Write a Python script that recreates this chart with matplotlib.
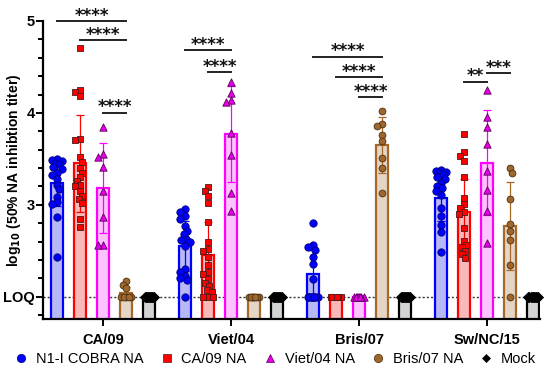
import numpy as np
import matplotlib
matplotlib.use('Agg')
import matplotlib.pyplot as plt
from matplotlib.lines import Line2D

plt.rcParams['font.family'] = ['Liberation Sans', 'DejaVu Sans']

# Dados (log10 dos títulos)
grupos = ['CA/09', 'Viet/04', 'Bris/07', 'Sw/NC/15']
series = ['N1-I COBRA NA', 'CA/09 NA', 'Viet/04 NA', 'Bris/07 NA', 'Mock']

cobra_pts = [
    [3.50, 3.49, 3.48, 3.46, 3.44, 3.41, 3.39, 3.35, 3.32, 3.28, 3.22, 3.17, 3.09, 3.03, 3.01, 2.87, 2.43],
    [2.95, 2.92, 2.88, 2.85, 2.77, 2.72, 2.68, 2.63, 2.62, 2.59, 2.55, 2.30, 2.27, 2.23, 2.20, 2.18, 2.00],
    [2.80, 2.56, 2.54, 2.51, 2.43, 2.36, 2.19, 2.00, 2.00, 2.00, 2.00, 2.00, 2.00, 2.00, 2.00],
    [3.38, 3.37, 3.36, 3.35, 3.33, 3.30, 3.28, 3.24, 3.20, 3.18, 3.15, 3.11, 2.97, 2.88, 2.78, 2.70, 2.49],
]
ca09_pts = [
    [4.71, 4.25, 4.23, 4.18, 3.72, 3.71, 3.52, 3.47, 3.40, 3.35, 3.30, 3.26, 3.22, 3.20, 3.15, 3.10, 3.06, 3.02, 2.85, 2.76],
    [3.19, 3.15, 3.10, 3.02, 2.81, 2.59, 2.52, 2.50, 2.43, 2.34, 2.27, 2.25, 2.19, 2.15, 2.12, 2.07, 2.05, 2.00, 2.00, 2.00],
    [2.00, 2.00, 2.00, 2.00, 2.00, 2.00, 2.00, 2.00],
    [3.77, 3.57, 3.53, 3.48, 3.30, 3.07, 3.01, 2.97, 2.92, 2.90, 2.75, 2.61, 2.56, 2.54, 2.50, 2.46, 2.42],
]
viet04_pts = [
    [3.85, 3.55, 3.52, 3.41, 3.15, 2.87, 2.56, 2.56],
    [4.34, 4.22, 4.14, 4.12, 3.78, 3.54, 3.13, 2.93],
    [2.00, 2.00, 2.00, 2.00, 2.00, 2.00, 2.00, 2.00],
    [4.25, 3.95, 3.85, 3.66, 3.37, 3.16, 2.93, 2.58],
]
bris07_pts = [
    [2.17, 2.13, 2.09, 2.00, 2.00, 2.00, 2.00, 2.00],
    [2.00, 2.00, 2.00, 2.00, 2.00, 2.00, 2.00, 2.00],
    [4.02, 3.88, 3.86, 3.76, 3.69, 3.51, 3.40, 3.13],
    [3.40, 3.35, 3.06, 2.79, 2.72, 2.62, 2.34, 2.00],
]
mock_pts = [
    [2.00, 2.00, 2.00, 2.00, 2.00, 2.00, 2.00, 2.00, 2.00, 2.00],
    [2.00, 2.00, 2.00, 2.00, 2.00, 2.00, 2.00, 2.00, 2.00, 2.00],
    [2.00, 2.00, 2.00, 2.00, 2.00, 2.00, 2.00, 2.00, 2.00, 2.00],
    [2.00, 2.00, 2.00, 2.00, 2.00, 2.00, 2.00, 2.00, 2.00, 2.00],
]

# media e desvio padrao (barras e barras de erro)
cobra_media = [3.24, 2.55, 2.25, 3.07]
cobra_dp = [0.25, 0.27, 0.26, 0.25]
ca09_media = [3.45, 2.45, 2.00, 2.92]
ca09_dp = [0.53, 0.36, 0.00, 0.36]
viet04_media = [3.18, 3.77, 2.00, 3.46]
viet04_dp = [0.49, 0.52, 0.00, 0.57]
bris07_media = [2.04, 2.00, 3.65, 2.77]
bris07_dp = [0.07, 0.00, 0.30, 0.48]
mock_media = [2.00, 2.00, 2.00, 2.00]
mock_dp = [0.0, 0.0, 0.0, 0.0]

# comparacoes: grupo, serie a, serie b, altura da linha, texto
comp_grupo = [0, 0, 0, 1, 1, 2, 2, 2, 3, 3]
comp_a = [0, 1, 2, 0, 1, 0, 1, 2, 1, 2]
comp_b = [3, 3, 3, 2, 2, 3, 3, 3, 2, 3]
comp_y = [5.00, 4.79, 4.00, 4.68, 4.445, 4.61, 4.39, 4.17, 4.34, 4.43]
comp_txt = ['****', '****', '****', '****', '****', '****', '****', '****', '**', '***']

LOQ = 2.0
YMIN, YMAX = 1.757, 5.0

# Estilo de cada serie
cor_borda = ['#0000ff', '#ff0000', '#ff00ff', '#a5682a', '#000000']
cor_barra = ['#b8b8f6', '#f9b9b9', '#fdc3fd', '#e4d5c7', '#d3d3d3']
cor_ponto = ['#0000ff', '#ff0000', '#e600e6', '#a0672d', '#000000']
borda_ponto = ['#00007a', '#4a1a1a', '#5a005a', '#4a3010', '#000000']
marcadores = ['o', 's', '^', 'o', 'D']
tam_marc = [28, 25, 28, 24, 26]

pontos = [cobra_pts, ca09_pts, viet04_pts, bris07_pts, mock_pts]
medias = [cobra_media, ca09_media, viet04_media, bris07_media, mock_media]
dps = [cobra_dp, ca09_dp, viet04_dp, bris07_dp, mock_dp]

DESLOC = 0.18
LARG = 0.095
PX_X, PX_Y = 128.0, 91.9


def espalhar(vals, max_off, diam):
    # distribui os pontos lateralmente (estilo beeswarm)
    cand = np.linspace(-max_off, max_off, 17)
    cand = cand[np.argsort(np.abs(cand), kind='stable')]
    colocados = []
    offs = []
    for v in vals:
        melhor, melhor_d = 0.0, -1
        for c in cand:
            if colocados:
                d = min(np.hypot((c - px) * PX_X, (v - py) * PX_Y) for px, py in colocados)
            else:
                d = np.inf
            if d >= diam:
                melhor = c
                break
            if d > melhor_d:
                melhor_d, melhor = d, c
        colocados.append((melhor, v))
        offs.append(melhor)
    return np.array(offs)


fig = plt.figure(figsize=(5.5, 3.83), dpi=100)
ax = fig.add_axes([0.0782, 0.1671, 0.9036, 0.7781])

x_grupos = np.arange(len(grupos))
for i in range(len(series)):
    xs = x_grupos + (i - 2) * DESLOC
    ax.bar(xs, medias[i], width=LARG, color=cor_barra[i], edgecolor=cor_borda[i],
           linewidth=1.6, zorder=2)
    ax.errorbar(xs, medias[i], yerr=dps[i], fmt='none', ecolor=cor_borda[i],
                elinewidth=0.9, capsize=3, capthick=0.9, zorder=3)
    for g in range(len(grupos)):
        vals = np.array(pontos[i][g])
        if i < 4:
            off = espalhar(vals, 0.037, 5.0)
        else:
            off = np.linspace(-0.036, 0.036, len(vals))
        ax.scatter(xs[g] + off, vals, s=tam_marc[i], marker=marcadores[i],
                   color=cor_ponto[i], edgecolors=borda_ponto[i], linewidths=0.6,
                   zorder=4, clip_on=False)

ax.axhline(LOQ, color='#333333', linestyle=(0, (1.5, 1.5)), linewidth=1.0, zorder=1.5)

# Linhas de significancia
for g, a, b, y, t in zip(comp_grupo, comp_a, comp_b, comp_y, comp_txt):
    xa = g + (a - 2) * DESLOC
    xb = g + (b - 2) * DESLOC
    ax.plot([xa, xb], [y, y], color='#222222', linewidth=1.4, clip_on=False, zorder=5)
    ax.text((xa + xb) / 2, y + 0.005, t, ha='center', va='baseline', fontsize=12,
            fontweight='bold', family='DejaVu Sans', color='#111111', clip_on=False)

ax.set_xlim(-0.47, 3.414)
ax.set_ylim(YMIN, YMAX)
ax.set_xticks(x_grupos)
ax.set_xticklabels(grupos, fontsize=10.5, fontweight='bold')
ax.set_yticks([2, 3, 4, 5])
ax.set_yticklabels(['LOQ', '3', '4', '5'], fontsize=10.5, fontweight='bold')
ax.set_yticks(np.arange(1.8, 5.01, 0.2), minor=True)
ax.tick_params(axis='y', which='major', length=5, width=1.4, pad=1)
ax.tick_params(axis='y', which='minor', length=3.5, width=1.4)
ax.tick_params(axis='x', which='major', length=5, width=1.4, pad=5)
ax.spines['top'].set_visible(False)
ax.spines['right'].set_visible(False)
ax.spines['left'].set_linewidth(1.6)
ax.spines['bottom'].set_linewidth(1.6)
ax.set_ylabel('log$_{\\mathbf{10}}$ (50% NA inhibtion titer)', fontsize=10,
              fontweight='bold', va='center')
ax.yaxis.set_label_coords(-0.058, 0.5)

handles = [Line2D([], [], linestyle='none', marker=marcadores[i], color=cor_ponto[i],
                  markeredgecolor=borda_ponto[i], markeredgewidth=0.5,
                  markersize=6 if i < 4 else 4.5) for i in range(len(series))]
fig.legend(handles, series, loc='center', bbox_to_anchor=(0.5, 0.063), ncol=5,
           frameon=False, fontsize=10.5, handlelength=1.0, handletextpad=0.5,
           columnspacing=1.1)

fig.savefig('out.png', dpi=100)
